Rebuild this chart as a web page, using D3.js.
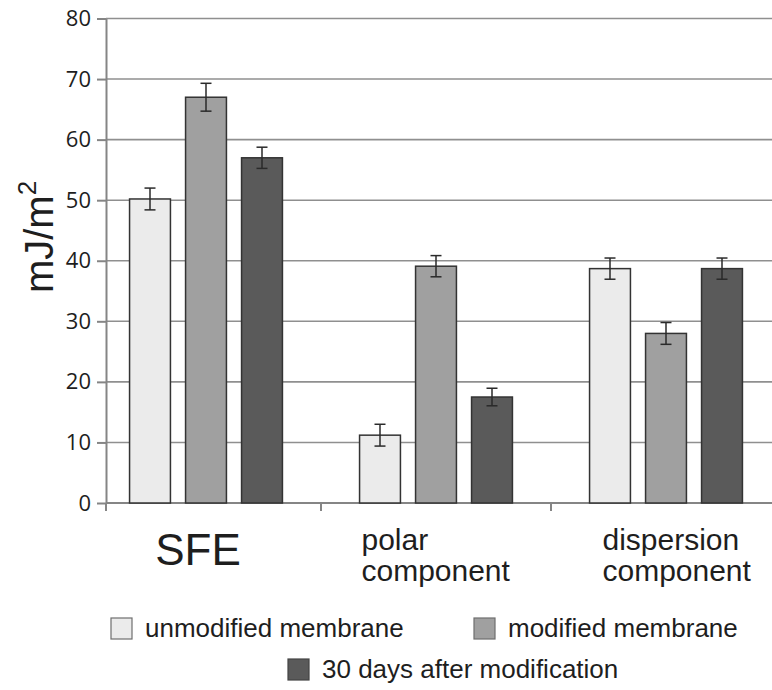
<!DOCTYPE html>
<html>
<head>
<meta charset="utf-8">
<script src="https://cdn.jsdelivr.net/npm/d3@7"></script>
<style>
  html, body { margin: 0; padding: 0; background: #fff; }
  svg { display: block; }
</style>
</head>
<body>
<svg id="chart" width="772" height="690"></svg>
<script>
// Surface free energy components (mJ/m²)
const categories = ["SFE", "polar\ncomponent", "dispersion\ncomponent"];
const seriesNames = ["unmodified membrane", "modified membrane", "30 days after modification"];
const unmodified = [50.2, 11.2, 38.7];
const modified = [67.0, 39.1, 28.0];
const after30days = [57.0, 17.5, 38.7];
const unmodifiedErr = [1.8, 1.8, 1.75];
const modifiedErr = [2.3, 1.75, 1.8];
const after30daysErr = [1.75, 1.45, 1.75];
const yTicks = [0, 10, 20, 30, 40, 50, 60, 70, 80];
const seriesColors = ["#ebebeb", "#a0a0a0", "#5a5a5a"];

const seriesValues = [unmodified, modified, after30days];
const seriesErrors = [unmodifiedErr, modifiedErr, after30daysErr];

const svg = d3.select("#chart");
const axisX = 106, plotRight = 772, yTop = 18.5, yBottom = 503;

const y = d3.scaleLinear().domain([0, 80]).range([yBottom, yTop]);
const x0 = d3.scaleBand().domain(categories).range([91, 781]);
const x1 = d3.scaleBand().domain(seriesNames).range([-84, 84])
  .paddingInner(0.27).paddingOuter(0.135);

// horizontal gridlines
svg.append("g").selectAll("line")
  .data(yTicks.filter(t => t > 0))
  .join("line")
  .attr("x1", axisX).attr("x2", plotRight)
  .attr("y1", d => y(d)).attr("y2", d => y(d))
  .attr("stroke", "#8f8f8f").attr("stroke-width", 1.6);

// y axis
const yAxis = svg.append("g")
  .attr("transform", `translate(${axisX},0)`)
  .call(d3.axisLeft(y).tickValues(yTicks).tickSize(9).tickPadding(6).tickSizeOuter(0));
yAxis.select(".domain").attr("stroke", "#858585").attr("stroke-width", 2);
yAxis.selectAll(".tick line").attr("stroke", "#858585").attr("stroke-width", 2);
yAxis.selectAll(".tick text")
  .attr("font-family", "'Open Sans', sans-serif")
  .attr("font-size", 22).attr("fill", "#1e1e1e");

// x baseline and category separators
svg.append("line")
  .attr("x1", axisX).attr("x2", plotRight)
  .attr("y1", yBottom).attr("y2", yBottom)
  .attr("stroke", "#858585").attr("stroke-width", 2);
const separators = [axisX].concat(categories.slice(1).map(c => x0(c)));
svg.append("g").selectAll("line")
  .data(separators)
  .join("line")
  .attr("x1", d => d).attr("x2", d => d)
  .attr("y1", yBottom).attr("y2", yBottom + 8)
  .attr("stroke", "#858585").attr("stroke-width", 2);

// bars with error bars
const barData = [];
categories.forEach((c, ci) => {
  seriesNames.forEach((s, si) => {
    barData.push({ c, s, si, v: seriesValues[si][ci], e: seriesErrors[si][ci] });
  });
});
const bars = svg.append("g");
bars.selectAll("rect")
  .data(barData)
  .join("rect")
  .attr("x", d => x0(d.c) + x0.bandwidth() / 2 + x1(d.s))
  .attr("y", d => y(d.v))
  .attr("width", x1.bandwidth())
  .attr("height", d => y(0) - y(d.v))
  .attr("fill", d => seriesColors[d.si])
  .attr("stroke", "#333").attr("stroke-width", 1.5);

const errG = svg.append("g").attr("stroke", "#2a2a2a").attr("stroke-width", 1.5);
const cx = d => x0(d.c) + x0.bandwidth() / 2 + x1(d.s) + x1.bandwidth() / 2;
barData.forEach(d => {
  const xc = cx(d);
  errG.append("line").attr("x1", xc).attr("x2", xc).attr("y1", y(d.v + d.e)).attr("y2", y(d.v - d.e));
  errG.append("line").attr("x1", xc - 5.5).attr("x2", xc + 5.5).attr("y1", y(d.v + d.e)).attr("y2", y(d.v + d.e));
  errG.append("line").attr("x1", xc - 5.5).attr("x2", xc + 5.5).attr("y1", y(d.v - d.e)).attr("y2", y(d.v - d.e));
});

// category labels
const labelFont = "'Liberation Sans', Arial, sans-serif";
const labelNudge = [-8, 0, 11];
categories.forEach((c, ci) => {
  const lines = c.split("\n");
  const big = lines.length === 1;
  const t = svg.append("text")
    .attr("font-family", labelFont)
    .attr("font-size", big ? 44 : 30)
    .attr("fill", "#1e1e1e");
  lines.forEach((ln, li) => {
    t.append("tspan").attr("x", 0).attr("y", big ? 565 : 550 + li * 31).text(ln);
  });
  const w = t.node().getBBox().width;
  t.attr("transform", `translate(${x0(c) + x0.bandwidth() / 2 - w / 2 + labelNudge[ci]},0)`);
});

// y axis title
const title = svg.append("text")
  .attr("transform", "translate(53,237) rotate(-90)")
  .attr("text-anchor", "middle")
  .attr("font-family", labelFont)
  .attr("font-size", 40)
  .attr("fill", "#1e1e1e");
title.append("tspan").text("mJ/m");
title.append("tspan").attr("font-size", 26).attr("dy", -17).text("2");

// legend
const legendPos = [
  { x: 111, y: 637 },
  { x: 474, y: 637 },
  { x: 288, y: 678 }
];
const legend = svg.append("g");
seriesNames.forEach((s, si) => {
  const p = legendPos[si];
  legend.append("rect")
    .attr("x", p.x).attr("y", p.y - 19)
    .attr("width", 21).attr("height", 21)
    .attr("fill", seriesColors[si])
    .attr("stroke", si === 2 ? "#444" : "#6e6e6e").attr("stroke-width", 1.2);
  legend.append("text")
    .attr("x", p.x + 34).attr("y", p.y)
    .attr("font-family", labelFont)
    .attr("font-size", 26)
    .attr("fill", "#1e1e1e")
    .text(s);
});
</script>
</body>
</html>
